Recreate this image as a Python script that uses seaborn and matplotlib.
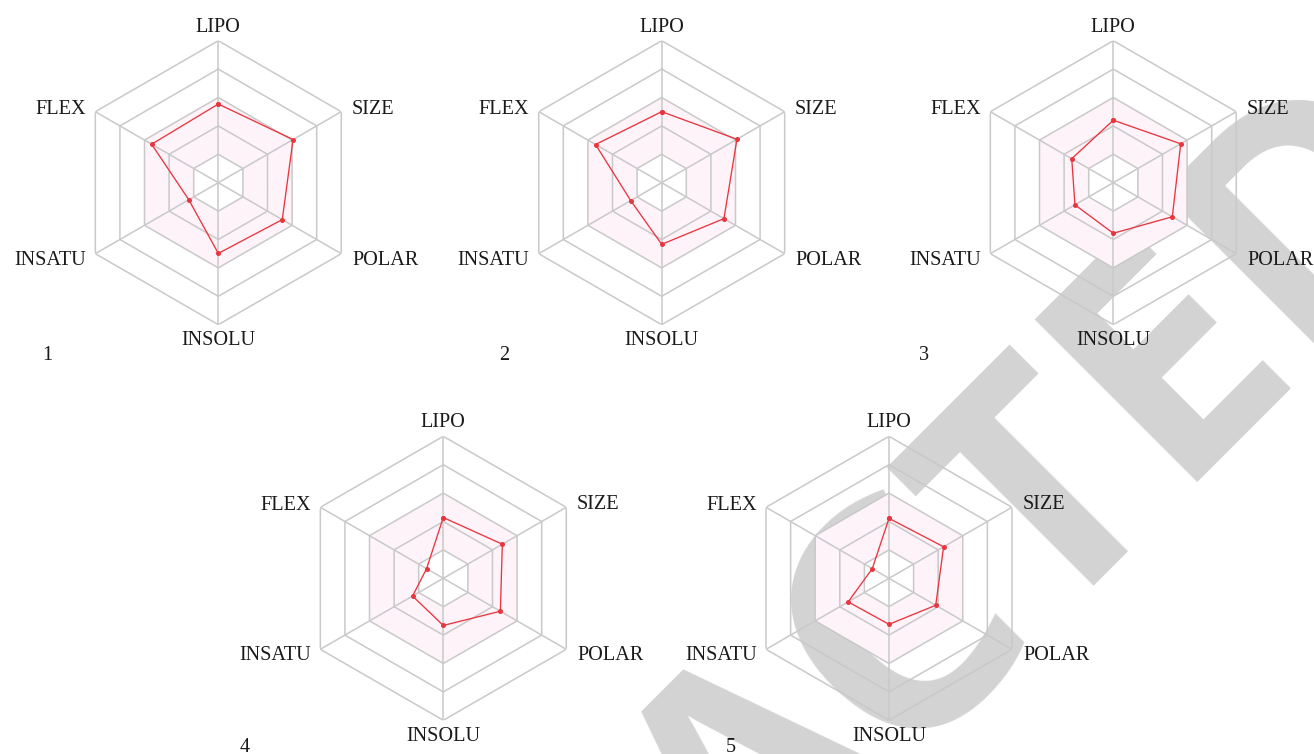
import numpy as np
import pandas as pd
import matplotlib
matplotlib.use("Agg")
import matplotlib.pyplot as plt
from matplotlib.textpath import TextPath
from matplotlib.font_manager import FontProperties
import seaborn as sns

# Bioavailability radar: six physicochemical descriptors per compound (0-5 scale)
axes_labels = ["LIPO", "SIZE", "POLAR", "INSOLU", "INSATU", "FLEX"]
compound_ids = ["1", "2", "3", "4", "5"]

lipo   = [2.77, 2.50, 2.20, 2.14, 2.11]
size   = [3.04, 3.06, 2.74, 2.40, 2.22]
polar  = [2.60, 2.53, 2.40, 2.32, 1.90]
insolu = [2.49, 2.17, 1.78, 1.66, 1.62]
insatu = [1.20, 1.26, 1.56, 1.25, 1.66]
flex   = [2.71, 2.69, 1.69, 0.68, 0.68]

ring_levels = [1, 2, 3, 4, 5]
optimal_low, optimal_high = 1, 3
r_max = 5

# ---- styling ------------------------------------------------------------
sns.set_theme(style="white")
plt.rcParams["font.family"] = ["Liberation Serif", "DejaVu Serif"]

W, H = 1314, 754
DPI = 100
fig = plt.figure(figsize=(W / DPI, H / DPI), dpi=DPI)
fig.patch.set_facecolor("white")

grid_color = "#c9c9c9"
line_color = "#e8363f"
band_color = "#fef3f9"
label_size = 14.6

# panel centres and radius in figure pixels (y measured from top)
centers = [(218.3, 182.7), (661.7, 182.7), (1113.3, 182.7),
           (443.3, 578.3), (889.0, 578.3)]
radius_px = 142
number_pos = [(47, 360), (503.7, 359.5), (924.3, 359.5), (245, 752), (731, 752)]

n = len(axes_labels)
theta = np.linspace(0, 2 * np.pi, n, endpoint=False)
theta_closed = np.append(theta, 2 * np.pi)

df = pd.DataFrame({"LIPO": lipo, "SIZE": size, "POLAR": polar,
                   "INSOLU": insolu, "INSATU": insatu, "FLEX": flex},
                  index=compound_ids)

# label placement around the outer hexagon: (dx, dy) offsets in pixels, alignment
label_style = {
    "LIPO":   ((0, 9), "center"),
    "SIZE":   ((10.4, -2.2), "left"),
    "POLAR":  ((11.0, -10.9), "left"),
    "INSOLU": ((0, -20.7), "center"),
    "INSATU": ((-9.3, -10.9), "right"),
    "FLEX":   ((-9.3, -2.2), "right"),
}

# ---- diagonal watermark under the charts ---------------------------------
wm_text = "RETRACTED"
wm_family = ["Open Sans", "DejaVu Sans"]
wm_cap_px = 230.0                 # cap height in pixels
wm_t_center = (1103.0, 548.0)     # baseline point under the second "T" (px, from top)
fp_unit = FontProperties(family=wm_family, weight="bold")
t_box = TextPath((0, 0), "T", prop=fp_unit, size=1).get_extents()
em_px = wm_cap_px / t_box.y1
adv = TextPath((0, 0), "RETRACT", prop=fp_unit, size=1).get_extents().x1 - t_box.x1
d_px = (adv + 0.5 * (t_box.x0 + t_box.x1)) * em_px
s = d_px / np.sqrt(2)
start_x = wm_t_center[0] - s
start_y = (H - wm_t_center[1]) - s
fig.text(start_x / W, start_y / H, wm_text, rotation=45, rotation_mode="anchor",
         ha="left", va="baseline", fontsize=em_px * 72 / DPI, fontweight="bold",
         family=wm_family, color="#d3d3d3", zorder=-5)

# ---- radar panels -----------------------------------------------------------
for i, cid in enumerate(compound_ids):
    cx, cy = centers[i]
    rect = [(cx - radius_px) / W, 1 - (cy + radius_px) / H,
            2 * radius_px / W, 2 * radius_px / H]
    ax = fig.add_axes(rect, projection="polar")
    ax.set_theta_offset(np.pi / 2)
    ax.set_theta_direction(-1)
    ax.set_ylim(0, r_max)
    ax.set_facecolor("none")
    ax.grid(False)
    ax.set_xticks([])
    ax.set_yticks([])
    ax.spines["polar"].set_visible(False)

    # optimal band between two rings
    ax.fill(theta_closed, [optimal_high] * (n + 1), color=band_color, lw=0, zorder=1)
    ax.fill(theta_closed, [optimal_low] * (n + 1), color="white", lw=0, zorder=1)

    # hexagonal rings and spokes
    for lvl in ring_levels:
        ax.plot(theta_closed, [lvl] * (n + 1), color=grid_color, lw=1.1, zorder=2)
    for t in theta:
        ax.plot([t, t], [0, r_max], color=grid_color, lw=1.1, zorder=2)

    vals = df.loc[cid, axes_labels].to_numpy(dtype=float)
    vals_closed = np.append(vals, vals[0])
    sns.lineplot(x=theta_closed, y=vals_closed, sort=False, ax=ax,
                 color=line_color, lw=0.95, marker="o", markersize=3.6,
                 markeredgewidth=0, zorder=4)
    ax.set_xlabel("")
    ax.set_ylabel("")

    for t, name in zip(theta, axes_labels):
        (dx, dy), ha = label_style[name]
        ax.annotate(name, xy=(t, r_max), xytext=(dx * 0.72, dy * 0.72),
                    textcoords="offset points", ha=ha, va="baseline",
                    fontsize=label_size, color="#1a1a1a", annotation_clip=False)

    nx, ny = number_pos[i]
    fig.text(nx / W, 1 - ny / H, cid, ha="center", va="baseline",
             fontsize=label_size, color="#1a1a1a")

fig.savefig("out.png", dpi=DPI, facecolor="white")
